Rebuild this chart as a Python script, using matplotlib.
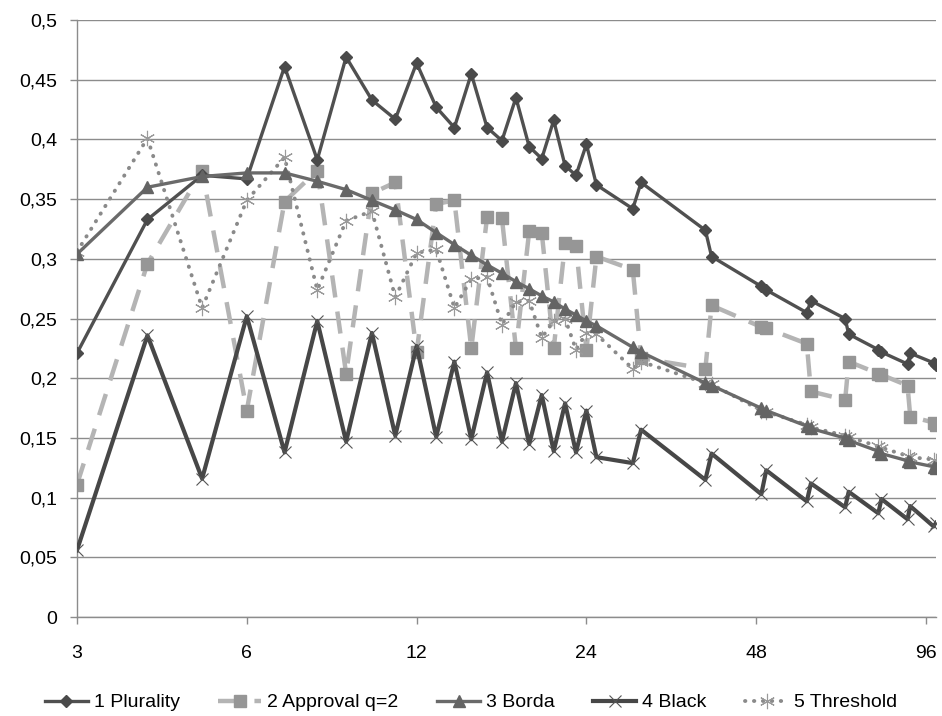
import matplotlib
matplotlib.use("Agg")
import matplotlib.pyplot as plt
from matplotlib.ticker import FixedLocator, FixedFormatter, NullLocator

plt.rcParams['font.family'] = ['Liberation Sans Narrow', 'Liberation Sans', 'DejaVu Sans']

# number of voters (x axis, log base 2)
n = [3, 4, 5, 6, 7, 8, 9, 10, 11, 12, 13, 14, 15, 16, 17, 18, 19, 20, 21, 22, 23, 24, 25,
     29, 30, 39, 40, 49, 50, 59, 60, 69, 70, 79, 80, 89, 90, 99, 100]

plurality = [0.221, 0.333, 0.370, 0.367, 0.461, 0.383, 0.469, 0.433, 0.417, 0.464, 0.427, 0.410,
             0.455, 0.410, 0.399, 0.435, 0.394, 0.384, 0.416, 0.378, 0.370, 0.396, 0.362,
             0.342, 0.364, 0.324, 0.302, 0.277, 0.274, 0.255, 0.265, 0.250, 0.237, 0.224, 0.222,
             0.212, 0.221, 0.213, 0.211]

approval = [0.111, 0.296, 0.374, 0.173, 0.348, 0.374, 0.204, 0.355, 0.364, 0.222, 0.346, 0.349,
            0.225, 0.335, 0.334, 0.225, 0.323, 0.322, 0.225, 0.313, 0.311, 0.224, 0.302,
            0.291, 0.217, 0.208, 0.261, 0.243, 0.242, 0.229, 0.189, 0.182, 0.214, 0.204, 0.203,
            0.194, 0.168, 0.163, 0.161]

borda = [0.304, 0.360, 0.369, 0.372, 0.372, 0.365, 0.358, 0.349, 0.341, 0.333, 0.322, 0.312,
         0.303, 0.295, 0.288, 0.281, 0.275, 0.269, 0.264, 0.258, 0.253, 0.248, 0.244,
         0.226, 0.222, 0.196, 0.194, 0.175, 0.173, 0.160, 0.158, 0.150, 0.148, 0.139, 0.137,
         0.131, 0.130, 0.126, 0.125]

black = [0.056, 0.236, 0.116, 0.252, 0.138, 0.248, 0.147, 0.238, 0.152, 0.227, 0.151, 0.214,
         0.149, 0.205, 0.147, 0.196, 0.145, 0.186, 0.139, 0.179, 0.138, 0.173, 0.134,
         0.129, 0.157, 0.115, 0.137, 0.103, 0.123, 0.097, 0.112, 0.092, 0.105, 0.087, 0.099,
         0.082, 0.093, 0.076, 0.079]

threshold = [0.306, 0.401, 0.259, 0.349, 0.385, 0.274, 0.332, 0.340, 0.268, 0.305, 0.308, 0.259,
             0.283, 0.285, 0.245, 0.264, 0.265, 0.234, 0.248, 0.250, 0.224, 0.238, 0.237,
             0.208, 0.214, 0.196, 0.195, 0.173, 0.172, 0.161, 0.159, 0.152, 0.151, 0.143, 0.142,
             0.135, 0.134, 0.132, 0.131]

x_ticks = [3, 6, 12, 24, 48, 96]
y_ticks = [0, 0.05, 0.1, 0.15, 0.2, 0.25, 0.3, 0.35, 0.4, 0.45, 0.5]
y_labels = ['0', '0,05', '0,1', '0,15', '0,2', '0,25', '0,3', '0,35', '0,4', '0,45', '0,5']

fig = plt.figure(figsize=(9.42, 7.16), dpi=100)
ax = fig.add_axes([0.0817, 0.138, 0.912, 0.834])

ax.plot(n, plurality, color='#505050', lw=2.4, marker='D', ms=6.5, mfc='#4a4a4a', mec='#4a4a4a',
        label='1 Plurality', zorder=3)
ax.plot(n, approval, color='#b4b4b4', lw=3.2, dashes=(5, 3.2), marker='s', ms=8, mfc='#969696',
        mec='#969696', label='2 Approval q=2', zorder=2)
ax.plot(n, borda, color='#6a6a6a', lw=2.4, marker='^', ms=8, mfc='#646464', mec='#646464',
        label='3 Borda', zorder=4)
ax.plot(n, black, color='#474747', lw=3.0, marker='x', ms=9, mew=0.8, mec='#555555',
        label='4 Black', zorder=5)
ax.plot(n, threshold, color='#8a8a8a', lw=2.8, linestyle=(0, (0.1, 2.2)), dash_capstyle='round',
        marker=(6, 2, 0), ms=11, mew=0.8, mec='#9a9a9a', label='5 Threshold', zorder=3)

ax.set_xscale('log', base=2)
ax.set_xlim(3, 100)
ax.set_ylim(0, 0.5)
ax.xaxis.set_major_locator(FixedLocator(x_ticks))
ax.xaxis.set_major_formatter(FixedFormatter([str(t) for t in x_ticks]))
ax.xaxis.set_minor_locator(NullLocator())
ax.set_yticks(y_ticks)
ax.set_yticklabels(y_labels)

ax.grid(axis='y', color='#8c8c8c', lw=1)
ax.set_axisbelow(True)
for s in ['top', 'right']:
    ax.spines[s].set_visible(False)
for s in ['left', 'bottom']:
    ax.spines[s].set_color('#8c8c8c')
    ax.spines[s].set_linewidth(1)
ax.tick_params(axis='both', colors='#8c8c8c', labelcolor='black', labelsize=14, length=5, width=1)
ax.tick_params(axis='x', pad=15)
ax.tick_params(axis='y', pad=9)

fig.legend(loc='lower center', bbox_to_anchor=(0.5, -0.018), ncol=5, frameon=False, fontsize=14,
           handlelength=2.2, columnspacing=2.0, handletextpad=0.3)

fig.savefig('out.png', dpi=100)
